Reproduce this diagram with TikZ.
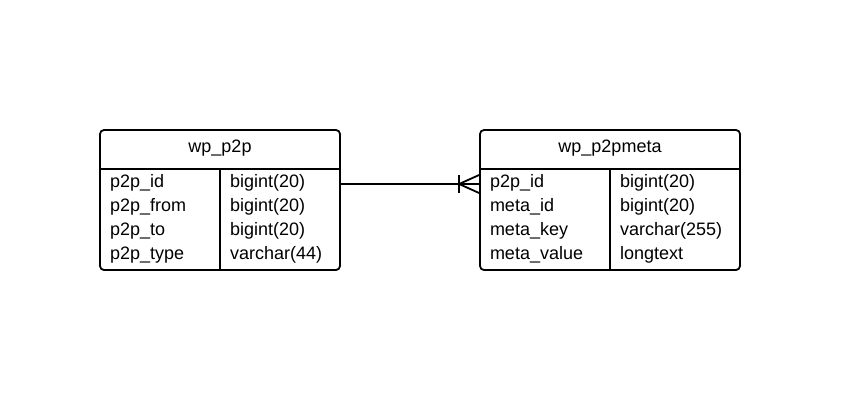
\documentclass[tikz,border=0pt]{standalone}
\usepackage{fontspec}
\setmainfont{Liberation Sans}
\usetikzlibrary{positioning}
\tikzstyle{table} = [draw=black, line width=1.8pt, rounded corners=4pt, minimum height=140pt, inner sep=0pt]
\tikzstyle{field} = [text width=100pt, align=left, inner sep=0pt, text height=12pt, text depth=5pt, font=\fontsize{18}{21}\selectfont]
\tikzstyle{title} = [inner sep=0pt, text height=12pt, text depth=5pt, font=\fontsize{18}{21}\selectfont]
\tikzstyle{rule} = [line width=1.8pt]
\tikzstyle{link} = [line width=1.8pt]

\begin{document}
\begin{tikzpicture}[x=1pt, y=-1pt, node distance=24pt]
\useasboundingbox (0,0) rectangle (841,400);
% wp_p2p
\node (p2p) [table, minimum width=240pt] at (220,200) {};
\node (p2ptitle) [title] at (220,149) {wp\_p2p};
\draw[rule] ([yshift=-40pt]p2p.north west) -- ([yshift=-40pt]p2p.north east);
\draw[rule] ([yshift=-40pt]p2p.north) -- (p2p.south);
\node (p2pid) [field] at (160,184) {p2p\_id};
\node (p2pfrom) [field, below of=p2pid] {p2p\_from};
\node (p2pto) [field, below of=p2pfrom] {p2p\_to};
\node (p2ptype) [field, below of=p2pto] {p2p\_type};
\node (p2pidT) [field, right of=p2pid, node distance=120pt] {bigint(20)};
\node (p2pfromT) [field, below of=p2pidT] {bigint(20)};
\node (p2ptoT) [field, below of=p2pfromT] {bigint(20)};
\node (p2ptypeT) [field, below of=p2ptoT] {varchar(44)};
% wp_p2pmeta
\node (meta) [table, minimum width=260pt] at (610,200) {};
\node (metatitle) [title] at (610,149) {wp\_p2pmeta};
\draw[rule] ([yshift=-40pt]meta.north west) -- ([yshift=-40pt]meta.north east);
\draw[rule] ([yshift=-40pt]meta.north) -- (meta.south);
\node (metap2pid) [field] at (540,184) {p2p\_id};
\node (metaid) [field, below of=metap2pid] {meta\_id};
\node (metakey) [field, below of=metaid] {meta\_key};
\node (metavalue) [field, below of=metakey] {meta\_value};
\node (metap2pidT) [field, right of=metap2pid, node distance=130pt] {bigint(20)};
\node (metaidT) [field, below of=metap2pidT] {bigint(20)};
\node (metakeyT) [field, below of=metaidT] {varchar(255)};
\node (metavalueT) [field, below of=metakeyT] {longtext};
% one to many
\coordinate (crow) at ([xshift=-20pt]meta.west |- p2pid);
\draw[link] (p2p.east |- p2pid) -- (meta.west |- p2pid);
\draw[link] ([yshift=9pt]crow) -- ([yshift=-9pt]crow);
\draw[link] ([yshift=9pt]meta.west |- p2pid) -- (crow) -- ([yshift=-9pt]meta.west |- p2pid);
\end{tikzpicture}
\end{document}
